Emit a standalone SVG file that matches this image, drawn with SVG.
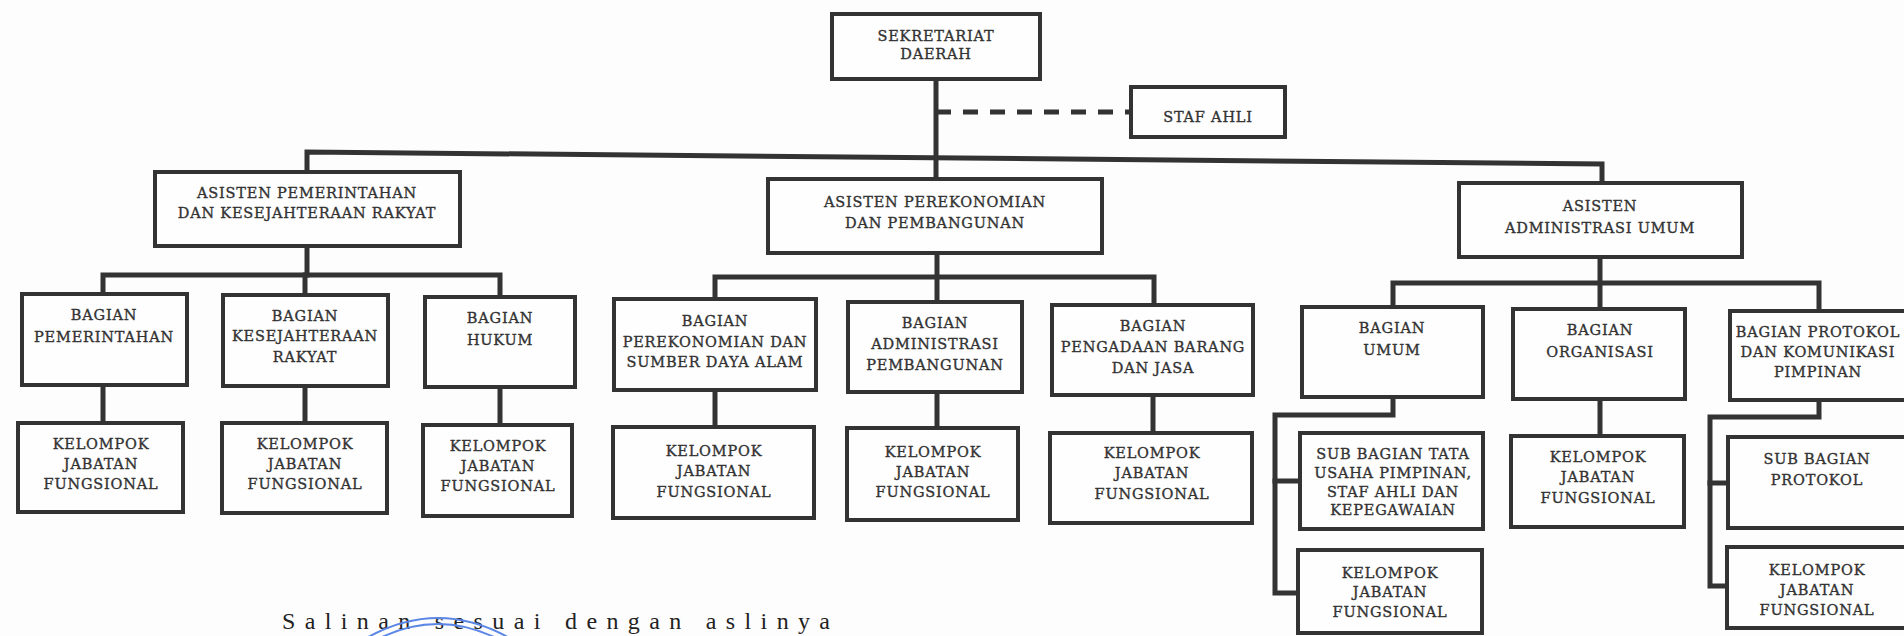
<svg xmlns="http://www.w3.org/2000/svg" width="1904" height="636" viewBox="0 0 1904 636">
<style>
.bg{fill:#fdfdfd}
.box{fill:#fefefe;stroke:#333;stroke-width:4}
.ln{fill:none;stroke:#333;stroke-width:5;stroke-linejoin:miter;stroke-linecap:square}
.dash{fill:none;stroke:#333;stroke-width:5;stroke-dasharray:15 12}
.t{font-family:"DejaVu Serif","Liberation Serif",serif;font-size:14.5px;letter-spacing:0.8px;fill:#333;stroke:#333;stroke-width:0.35;text-anchor:middle}
.foot{font-family:"Liberation Serif","DejaVu Serif",serif;font-size:24px;fill:#222}
.stamp{fill:none;stroke:#5b86e6;stroke-width:2}
</style>
<rect class="bg" x="0" y="0" width="1904" height="636"/>

<g id="connectors">
  <path class="ln" d="M936 79 V179"/>
  <path class="dash" d="M936 112 H1131"/>
  <path class="ln" d="M307 172 V152 L1602 164 V183"/>
  <path class="ln" d="M307 246 V275"/>
  <path class="ln" d="M103 294 V275 H500 V297"/>
  <path class="ln" d="M305 275 V295"/>
  <path class="ln" d="M103 385 V423"/>
  <path class="ln" d="M305 386 V423"/>
  <path class="ln" d="M500 387 V425"/>
  <path class="ln" d="M937 253 V302"/>
  <path class="ln" d="M715 299 V277 H1154 V305"/>
  <path class="ln" d="M715 390 V427"/>
  <path class="ln" d="M937 392 V428"/>
  <path class="ln" d="M1153 395 V433"/>
  <path class="ln" d="M1600 257 V309"/>
  <path class="ln" d="M1393 307 V283 H1819 V311"/>
  <path class="ln" d="M1393 397 V415 H1275 V593 H1298"/>
  <path class="ln" d="M1275 481 H1300"/>
  <path class="ln" d="M1600 399 V436"/>
  <path class="ln" d="M1819 400 V417 H1710 V586 H1727"/>
  <path class="ln" d="M1710 483 H1728"/>
</g>

<g id="sekda"><rect class="box" x="832" y="14" width="208" height="65"/>
<text class="t" x="936"><tspan x="936" y="41">SEKRETARIAT</tspan><tspan x="936" y="59">DAERAH</tspan></text></g>

<g id="staf-ahli"><rect class="box" x="1131" y="87" width="154" height="50"/>
<text class="t" x="1208" y="122">STAF AHLI</text></g>

<g id="asisten-1"><rect class="box" x="155" y="172" width="305" height="74"/>
<text class="t"><tspan x="307" y="198">ASISTEN PEMERINTAHAN</tspan><tspan x="307" y="218">DAN KESEJAHTERAAN RAKYAT</tspan></text></g>

<g id="asisten-2"><rect class="box" x="768" y="179" width="334" height="74"/>
<text class="t"><tspan x="935" y="207">ASISTEN PEREKONOMIAN</tspan><tspan x="935" y="228">DAN PEMBANGUNAN</tspan></text></g>

<g id="asisten-3"><rect class="box" x="1459" y="183" width="283" height="74"/>
<text class="t"><tspan x="1600" y="211">ASISTEN</tspan><tspan x="1600" y="233">ADMINISTRASI UMUM</tspan></text></g>

<g id="bagian-pemerintahan"><rect class="box" x="22" y="294" width="165" height="91"/>
<text class="t"><tspan x="104" y="320">BAGIAN</tspan><tspan x="104" y="342">PEMERINTAHAN</tspan></text></g>

<g id="bagian-kesra"><rect class="box" x="223" y="295" width="165" height="91"/>
<text class="t"><tspan x="305" y="321">BAGIAN</tspan><tspan x="305" y="341">KESEJAHTERAAN</tspan><tspan x="305" y="362">RAKYAT</tspan></text></g>

<g id="bagian-hukum"><rect class="box" x="425" y="297" width="150" height="90"/>
<text class="t"><tspan x="500" y="323">BAGIAN</tspan><tspan x="500" y="345">HUKUM</tspan></text></g>

<g id="kjf-1"><rect class="box" x="18" y="423" width="165" height="89"/>
<text class="t"><tspan x="101" y="449">KELOMPOK</tspan><tspan x="101" y="469">JABATAN</tspan><tspan x="101" y="489">FUNGSIONAL</tspan></text></g>

<g id="kjf-2"><rect class="box" x="222" y="423" width="165" height="90"/>
<text class="t"><tspan x="305" y="449">KELOMPOK</tspan><tspan x="305" y="469">JABATAN</tspan><tspan x="305" y="489">FUNGSIONAL</tspan></text></g>

<g id="kjf-3"><rect class="box" x="423" y="425" width="149" height="91"/>
<text class="t"><tspan x="498" y="451">KELOMPOK</tspan><tspan x="498" y="471">JABATAN</tspan><tspan x="498" y="491">FUNGSIONAL</tspan></text></g>

<g id="bagian-sda"><rect class="box" x="614" y="299" width="202" height="91"/>
<text class="t"><tspan x="715" y="326">BAGIAN</tspan><tspan x="715" y="347">PEREKONOMIAN DAN</tspan><tspan x="715" y="367">SUMBER DAYA ALAM</tspan></text></g>

<g id="bagian-adm-pembangunan"><rect class="box" x="848" y="302" width="174" height="90"/>
<text class="t"><tspan x="935" y="328">BAGIAN</tspan><tspan x="935" y="349">ADMINISTRASI</tspan><tspan x="935" y="370">PEMBANGUNAN</tspan></text></g>

<g id="bagian-pengadaan"><rect class="box" x="1052" y="305" width="201" height="90"/>
<text class="t"><tspan x="1153" y="331">BAGIAN</tspan><tspan x="1153" y="352">PENGADAAN BARANG</tspan><tspan x="1153" y="373">DAN JASA</tspan></text></g>

<g id="kjf-4"><rect class="box" x="613" y="427" width="201" height="91"/>
<text class="t"><tspan x="714" y="456">KELOMPOK</tspan><tspan x="714" y="476">JABATAN</tspan><tspan x="714" y="497">FUNGSIONAL</tspan></text></g>

<g id="kjf-5"><rect class="box" x="847" y="428" width="171" height="92"/>
<text class="t"><tspan x="933" y="457">KELOMPOK</tspan><tspan x="933" y="477">JABATAN</tspan><tspan x="933" y="497">FUNGSIONAL</tspan></text></g>

<g id="kjf-6"><rect class="box" x="1050" y="433" width="202" height="90"/>
<text class="t"><tspan x="1152" y="458">KELOMPOK</tspan><tspan x="1152" y="478">JABATAN</tspan><tspan x="1152" y="499">FUNGSIONAL</tspan></text></g>

<g id="bagian-umum"><rect class="box" x="1302" y="307" width="181" height="90"/>
<text class="t"><tspan x="1392" y="333">BAGIAN</tspan><tspan x="1392" y="355">UMUM</tspan></text></g>

<g id="bagian-organisasi"><rect class="box" x="1513" y="309" width="172" height="90"/>
<text class="t"><tspan x="1600" y="335">BAGIAN</tspan><tspan x="1600" y="357">ORGANISASI</tspan></text></g>

<g id="bagian-protokol"><rect class="box" x="1730" y="311" width="180" height="89"/>
<text class="t"><tspan x="1818" y="337">BAGIAN PROTOKOL</tspan><tspan x="1818" y="357">DAN KOMUNIKASI</tspan><tspan x="1818" y="377">PIMPINAN</tspan></text></g>

<g id="subbag-tata-usaha"><rect class="box" x="1300" y="433" width="183" height="96"/>
<text class="t"><tspan x="1393" y="459">SUB BAGIAN TATA</tspan><tspan x="1393" y="478">USAHA PIMPINAN,</tspan><tspan x="1393" y="497">STAF AHLI DAN</tspan><tspan x="1393" y="515">KEPEGAWAIAN</tspan></text></g>

<g id="kjf-umum"><rect class="box" x="1298" y="550" width="184" height="83"/>
<text class="t"><tspan x="1390" y="578">KELOMPOK</tspan><tspan x="1390" y="597">JABATAN</tspan><tspan x="1390" y="617">FUNGSIONAL</tspan></text></g>

<g id="kjf-organisasi"><rect class="box" x="1511" y="436" width="173" height="91"/>
<text class="t"><tspan x="1598" y="462">KELOMPOK</tspan><tspan x="1598" y="482">JABATAN</tspan><tspan x="1598" y="503">FUNGSIONAL</tspan></text></g>

<g id="subbag-protokol"><rect class="box" x="1728" y="437" width="180" height="91"/>
<text class="t"><tspan x="1817" y="464">SUB BAGIAN</tspan><tspan x="1817" y="485">PROTOKOL</tspan></text></g>

<g id="kjf-protokol"><rect class="box" x="1727" y="547" width="180" height="81"/>
<text class="t"><tspan x="1817" y="575">KELOMPOK</tspan><tspan x="1817" y="595">JABATAN</tspan><tspan x="1817" y="615">FUNGSIONAL</tspan></text></g>

<text class="foot" x="282" y="629" textLength="548" lengthAdjust="spacing">Salinan sesuai dengan aslinya</text>
<path class="stamp" d="M363 640 Q438 596 513 640"/>
<path class="stamp" d="M372 642 Q438 606 504 642"/>
</svg>
